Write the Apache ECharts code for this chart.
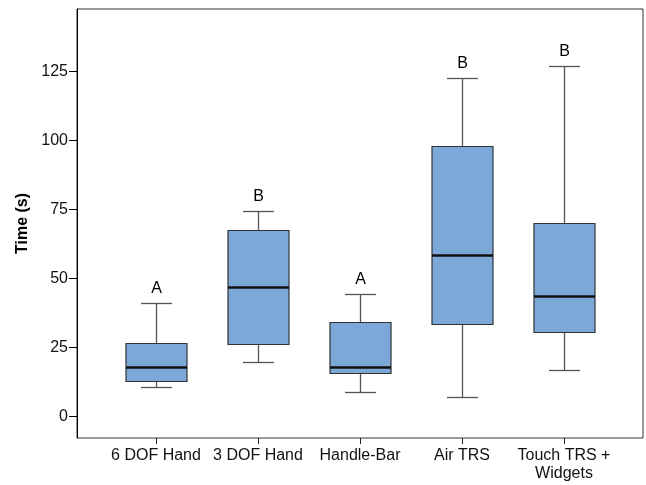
<!DOCTYPE html>
<html>
<head>
<meta charset="utf-8">
<script src="https://cdn.jsdelivr.net/npm/echarts@6/dist/echarts.min.js"></script>
<style>
  html, body { margin: 0; padding: 0; background: #fff; }
  #chart { width: 646px; height: 485px; }
</style>
</head>
<body>
<div id="chart"></div>
<script>
// values (seconds)
const categories = ["6 DOF Hand", "3 DOF Hand", "Handle-Bar", "Air TRS", "Touch TRS +\nWidgets"];
const whiskerLow = [10.6, 19.6, 8.9, 6.9, 16.7];
const q1 = [12.8, 26.1, 15.8, 33.4, 30.7];
const medians = [17.9, 46.9, 17.9, 58.4, 43.4];
const q3 = [26.7, 67.5, 34.2, 98.1, 70.0];
const whiskerHigh = [40.9, 74.2, 44.3, 122.7, 126.9];
const groupLetters = ["A", "B", "A", "B", "B"];
const yTicks = [0, 25, 50, 75, 100, 125];

const Y_MIN = -7.9;
const Y_MAX = 147.6;
const FONT = "Liberation Sans, Arial, sans-serif";

const boxData = categories.map((c, i) => [i, whiskerLow[i], q1[i], medians[i], q3[i], whiskerHigh[i]]);

function renderBox(params, api) {
  const i = api.value(0);
  const x = Math.round(api.coord([i, 0])[0]) + 0.5;
  const band = api.size([1, 0])[0];
  const boxW = Math.round(band * 0.6);
  const capW = Math.round(boxW / 2);
  const y = (v) => Math.round(api.coord([i, v])[1]) + 0.5;
  const yLo = y(api.value(1)), yQ1 = y(api.value(2)), yMed = y(api.value(3));
  const yQ3 = y(api.value(4)), yHi = y(api.value(5));
  const whisk = { stroke: "#555", lineWidth: 1.3 };
  return {
    type: "group",
    children: [
      { type: "line", shape: { x1: x, y1: yHi, x2: x, y2: yQ3 }, style: whisk },
      { type: "line", shape: { x1: x, y1: yQ1, x2: x, y2: yLo }, style: whisk },
      { type: "line", shape: { x1: x - capW / 2, y1: yHi, x2: x + capW / 2, y2: yHi }, style: whisk },
      { type: "line", shape: { x1: x - capW / 2, y1: yLo, x2: x + capW / 2, y2: yLo }, style: whisk },
      {
        type: "rect",
        shape: { x: x - boxW / 2, y: yQ3, width: boxW, height: yQ1 - yQ3 },
        style: { fill: "#7ba8d7", stroke: "#2f3236", lineWidth: 1.2 }
      },
      {
        type: "line",
        shape: { x1: x - boxW / 2, y1: yMed, x2: x + boxW / 2, y2: yMed },
        style: { stroke: "#111", lineWidth: 2.6 }
      },
      {
        type: "text",
        x: x,
        y: yHi - 15,
        style: {
          text: groupLetters[i],
          fill: "#000",
          font: "16px " + FONT,
          align: "center",
          verticalAlign: "middle"
        }
      }
    ]
  };
}

const chart = echarts.init(document.getElementById("chart"));

chart.setOption({
  backgroundColor: "#fff",
  animation: false,
  grid: [
    { left: 77, top: 9, width: 566, height: 429, show: true, borderColor: "#333", borderWidth: 1, backgroundColor: "transparent" },
    { left: 105, top: 9, width: 510, height: 429 }
  ],
  xAxis: [
    { gridIndex: 0, type: "value", min: 0, max: 1, show: false },
    {
      gridIndex: 1,
      type: "category",
      data: categories,
      position: "bottom",
      axisLine: { show: false, onZero: false },
      axisTick: { show: true, alignWithLabel: true, length: 6, lineStyle: { color: "#222" } },
      axisLabel: { color: "#111", fontSize: 16, fontFamily: FONT, margin: 9, lineHeight: 18, interval: 0 }
    }
  ],
  yAxis: [
    {
      gridIndex: 0,
      type: "value",
      min: Y_MIN,
      max: Y_MAX,
      name: "Time (s)",
      nameLocation: "middle",
      nameRotate: 90,
      nameGap: 44,
      nameTextStyle: { color: "#000", fontSize: 16, fontWeight: "bold", fontFamily: FONT },
      axisLine: { show: true, lineStyle: { color: "#000", width: 1 } },
      axisTick: { show: true, length: 8, customValues: yTicks, lineStyle: { color: "#000" } },
      axisLabel: { color: "#111", fontSize: 16, fontFamily: FONT, margin: 9, customValues: yTicks },
      splitLine: { show: false }
    },
    { gridIndex: 1, type: "value", min: Y_MIN, max: Y_MAX, show: false }
  ],
  series: [
    {
      type: "custom",
      xAxisIndex: 1,
      yAxisIndex: 1,
      renderItem: renderBox,
      encode: { x: 0, y: [1, 2, 3, 4, 5] },
      data: boxData,
      clip: false
    }
  ]
});
</script>
</body>
</html>
